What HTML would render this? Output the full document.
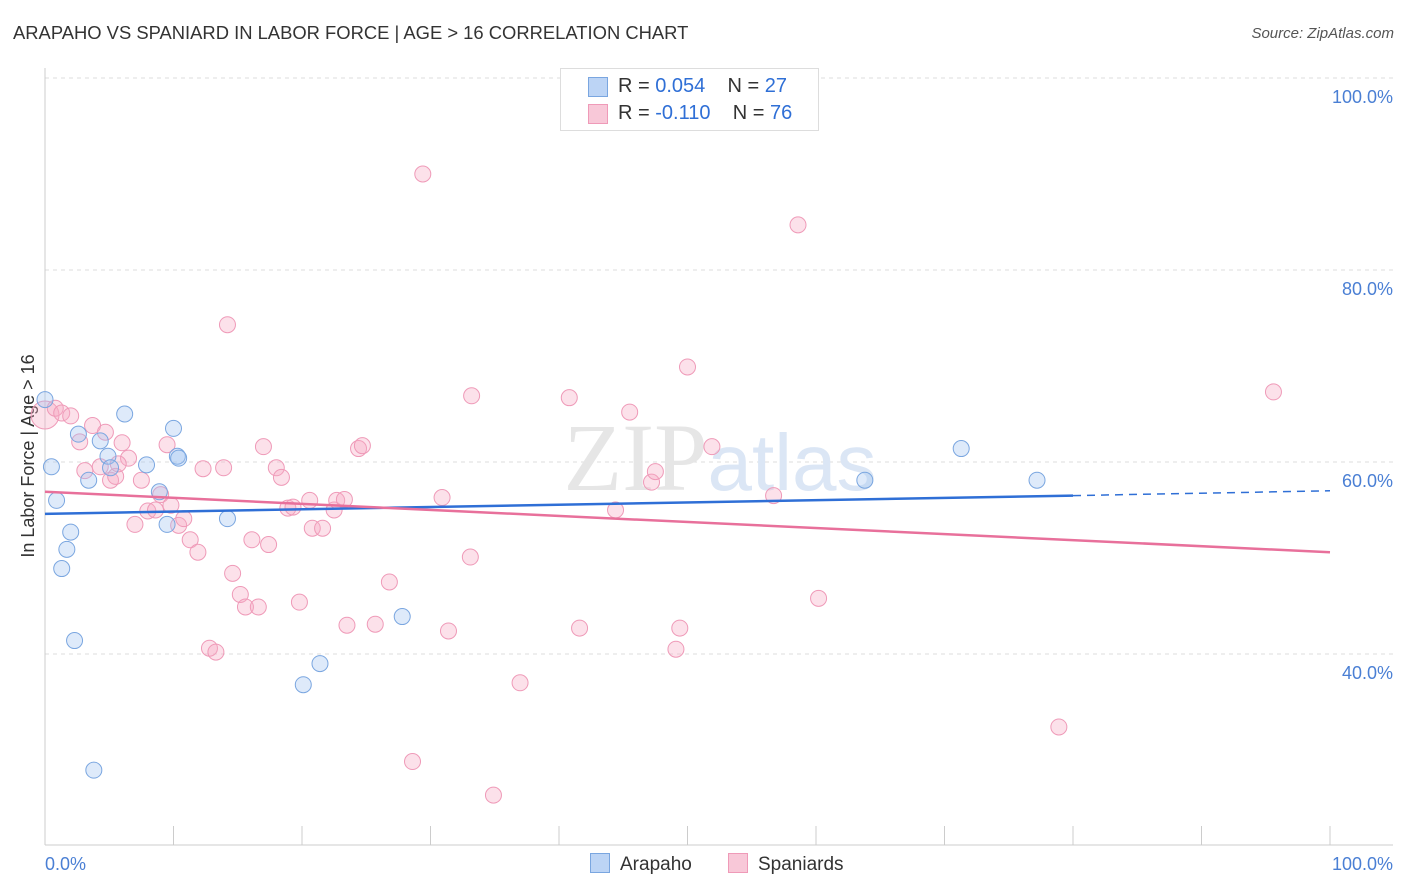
<!DOCTYPE html>
<html><head><meta charset="utf-8">
<style>
body{margin:0;background:#fff;font-family:"Liberation Sans",sans-serif;}
#wrap{position:relative;width:1406px;height:892px;overflow:hidden;}
.t{position:absolute;white-space:nowrap;}
</style></head>
<body>
<div id="wrap">
<div class="t" style="left:13px;top:22px;font-size:18.4px;color:#333;">ARAPAHO VS SPANIARD IN LABOR FORCE | AGE &gt; 16 CORRELATION CHART</div>
<div class="t" style="right:12px;top:25px;font-size:15px;color:#555;font-style:italic;">Source: ZipAtlas.com</div>
<svg id="svg" width="1406" height="892" style="position:absolute;left:0;top:0"></svg>
</div>
<script>
const blueX=[0,0.5,0.9,2,1.7,1.3,2.3,3.8,2.6,4.3,3.4,4.9,5.1,6.2,7.9,8.9,9.5,10,10.3,10.4,14.2,20.1,21.4,27.8,63.8,71.3,77.2];
const blueY=[66.5,59.5,56.0,52.7,50.9,48.9,41.4,27.9,62.9,62.2,58.1,60.6,59.4,65.0,59.7,56.9,53.5,63.5,60.6,60.4,54.1,36.8,39.0,43.9,58.1,61.4,58.1];
const pinkX=[0,0.8,1.3,2,2.7,3.1,3.7,4.3,4.7,5.1,5.5,6,6.5,7,7.5,8,8.6,9,9.5,9.8,10.4,10.8,11.3,11.9,12.3,12.8,13.3,13.9,14.2,14.6,15.2,15.6,16.6,16.1,17,17.4,18,18.4,18.9,19.3,19.8,20.6,20.8,21.6,22.5,22.7,23.3,23.5,24.4,24.7,25.7,26.8,28.6,29.4,30.9,31.4,33.1,33.2,34.9,36.97,40.8,41.6,44.4,45.5,47.2,47.5,49.1,49.4,50,51.9,56.7,58.6,60.2,78.9,95.6,5.7];
const pinkY=[64.9,65.6,65.1,64.8,62.1,59.1,63.8,59.5,63.1,58.1,58.5,62,60.4,53.5,58.1,54.9,55,56.6,61.8,55.5,53.4,54.1,51.9,50.6,59.3,40.6,40.2,59.4,74.3,48.4,46.2,44.9,44.9,51.9,61.6,51.4,59.4,58.4,55.2,55.3,45.4,56.0,53.1,53.1,55.0,56.0,56.1,43.0,61.4,61.7,43.1,47.5,28.8,90.0,56.3,42.4,50.1,66.9,25.3,37.0,66.7,42.7,55.0,65.2,57.9,59.0,40.5,42.7,69.9,61.6,56.5,84.7,45.8,32.4,67.3,59.8];
const NS="http://www.w3.org/2000/svg";
const svg=document.getElementById('svg');
const L=45,R=1330,T=78;
const xs=v=>L+(R-L)*v/100;
const ys=v=>T+(100-v)*9.6;
function mk(tag,attrs,parent){const e=document.createElementNS(NS,tag);for(const k in attrs)e.setAttribute(k,attrs[k]);(parent||svg).appendChild(e);return e;}
const gridVals=[100,80,60,40];
gridVals.forEach(g=>{
 const ln=mk('line',{x1:L,x2:1393,y1:ys(g),y2:ys(g),stroke:'#ddd','stroke-dasharray':'4,4'});
 
 
 const tx=mk('text',{x:1393,y:ys(g)+25,'text-anchor':'end','font-size':18,fill:'#4a7fd4','font-family':'Liberation Sans'});
 tx.textContent=g.toFixed(1)+'%';
 
 
});
mk('line',{x1:L,x2:L,y1:68,y2:845,stroke:'#ccc'});
mk('line',{x1:L,x2:1393,y1:845,y2:845,stroke:'#ccc'});
for(let i=0;i<=10;i++){const t=mk('line',{x1:xs(i*10),x2:xs(i*10),y1:826,y2:845,stroke:'#ccc'});
 
 }
let t1=mk('text',{x:45,y:870,'font-size':18,fill:'#4a7fd4','font-family':'Liberation Sans'});t1.textContent='0.0%';


let t2=mk('text',{x:1393,y:870,'text-anchor':'end','font-size':18,fill:'#4a7fd4','font-family':'Liberation Sans'});t2.textContent='100.0%';


let yt=mk('text',{x:34,y:456,'text-anchor':'middle','font-size':18,fill:'#333','font-family':'Liberation Sans',transform:'rotate(-90 34 456)'});yt.textContent='In Labor Force | Age > 16';


let wm=mk('text',{x:720,y:490,'text-anchor':'middle','font-size':96,fill:'#e6e6e6','font-family':'Liberation Serif'});
wm.innerHTML='ZIP<tspan fill="#dbe6f5" font-family="Liberation Sans" font-size="80">atlas</tspan>';


pinkX.forEach((x,i)=>{const c=mk('circle',{cx:xs(x),cy:ys(pinkY[i]),r:i==0?14:8,fill:'rgba(246,170,195,0.35)',stroke:'#ef9ab8','stroke-width':1});
 
 });
blueX.forEach((x,i)=>{const c=mk('circle',{cx:xs(x),cy:ys(blueY[i]),r:8,fill:'rgba(160,195,240,0.35)',stroke:'#7aa6e0','stroke-width':1});
 
 });
const bl=mk('line',{x1:xs(0),y1:ys(54.6),x2:xs(80),y2:ys(56.5),stroke:'#2f6fd6','stroke-width':2.5});


const bd=mk('line',{x1:xs(80),y1:ys(56.5),x2:xs(100),y2:ys(57.0),stroke:'#2f6fd6','stroke-width':1.5,'stroke-dasharray':'8,6'});


const pl=mk('line',{x1:xs(0),y1:ys(56.9),x2:xs(100),y2:ys(50.6),stroke:'#e8709b','stroke-width':2.5});


</script>
<div class="t" style="left:560px;top:68px;width:257px;height:61px;border:1px solid #ddd;background:#fff;font-size:20px;">
 <div style="position:absolute;left:27px;top:8px;width:18px;height:18px;background:#bcd4f5;border:1px solid #7aa6e0"></div>
 <div class="t" style="left:57px;top:6px;color:#333">R = <span style="color:#2f6fd6">0.054</span>&nbsp;&nbsp;&nbsp; N = <span style="color:#2f6fd6">27</span></div>
 <div style="position:absolute;left:27px;top:35px;width:18px;height:18px;background:#f8c8d8;border:1px solid #ef9ab8"></div>
 <div class="t" style="left:57px;top:33px;color:#333">R = <span style="color:#2f6fd6">-0.110</span>&nbsp;&nbsp;&nbsp; N = <span style="color:#2f6fd6">76</span></div>
</div>
<div class="t" style="left:590px;top:853px;font-size:19px;color:#333"><span style="display:inline-block;width:18px;height:18px;background:#bcd4f5;border:1px solid #7aa6e0;vertical-align:-3px;margin-right:10px"></span>Arapaho</div>
<div class="t" style="left:728px;top:853px;font-size:19px;color:#333"><span style="display:inline-block;width:18px;height:18px;background:#f8c8d8;border:1px solid #ef9ab8;vertical-align:-3px;margin-right:10px"></span>Spaniards</div>
</body></html>
